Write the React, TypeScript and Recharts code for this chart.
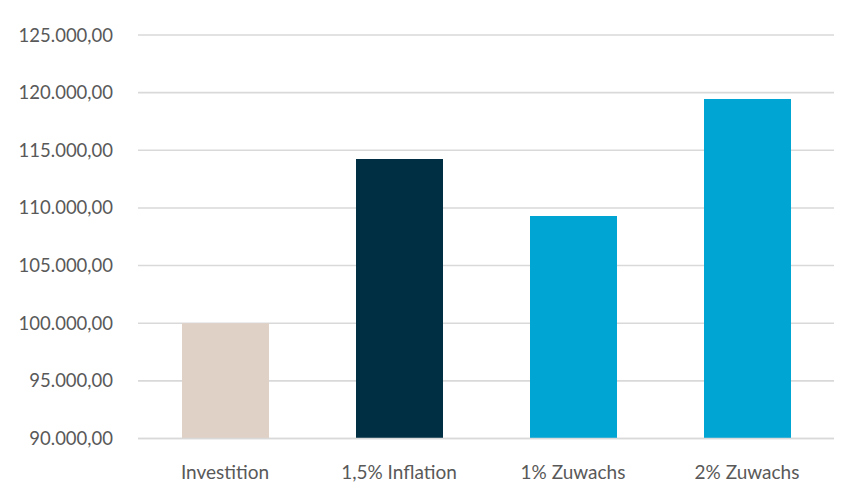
import { BarChart, Bar, XAxis, YAxis, CartesianGrid, Cell } from 'recharts';

const categories = ['Investition', '1,5% Inflation', '1% Zuwachs', '2% Zuwachs'];
const values = [100000, 114250, 109300, 119450];
const barColors = ['#DFD1C5', '#002F44', '#00A5D3', '#00A5D3'];
const yTicks = [90000, 95000, 100000, 105000, 110000, 115000, 120000, 125000];

const data = categories.map((name, i) => ({ name, value: values[i] }));

// German number format: 125.000,00
function formatDe(v: number) {
  const [intPart, dec] = v.toFixed(2).split('.');
  return intPart.replace(/\B(?=(\d{3})+(?!\d))/g, '.') + ',' + dec;
}

const yTickStyle = { fill: '#595959', fontSize: 18.5, fontFamily: 'Lato' };
const xTickStyle = { fill: '#595959', fontSize: 19, fontFamily: 'Lato' };

export default function App() {
  return (
    <div style={{ position: 'absolute', left: 0, top: 0, background: '#fff' }}>
      <BarChart width={858} height={500} data={data} margin={{ top: 35, right: 24, bottom: 0, left: 0 }}>
        <CartesianGrid vertical={false} stroke="#D9D9D9" strokeWidth={1.6} />
        <XAxis
          dataKey="name"
          height={61.5}
          axisLine={{ stroke: '#D9D9D9', strokeWidth: 1.6 }}
          tickLine={false}
          tickSize={0}
          tickMargin={27}
          tick={xTickStyle}
        />
        <YAxis
          width={138}
          domain={[90000, 125000]}
          ticks={yTicks}
          axisLine={false}
          tickLine={false}
          tickSize={0}
          tickMargin={25}
          tick={yTickStyle}
          tickFormatter={formatDe}
          allowDataOverflow
        />
        <Bar dataKey="value" barSize={87} isAnimationActive={false}>
          {data.map((d, i) => (
            <Cell key={d.name} fill={barColors[i]} />
          ))}
        </Bar>
      </BarChart>
    </div>
  );
}
